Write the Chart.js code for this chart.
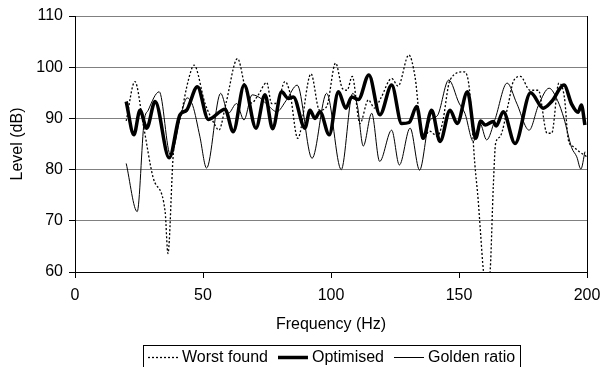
<!DOCTYPE html>
<html><head><meta charset="utf-8">
<script src="https://cdn.jsdelivr.net/npm/chart.js@4.4.1/dist/chart.umd.min.js"></script>
<style>html,body{margin:0;padding:0;background:#fff;}#wrap{width:600px;height:367px;}</style>
</head><body><div id="wrap"><canvas id="c" width="600" height="367"></canvas></div>
<script>
const seriesNames = ['Worst found', 'Optimised', 'Golden ratio'];
const xTickValues = [0, 50, 100, 150, 200];
const yTickValues = [60, 70, 80, 90, 100, 110];

const worstHz = [20, 23.4, 26.7, 30.6, 35.2, 36.3, 38.4, 41.7, 44.3, 46.5, 50.8, 54.7, 56.2, 59, 63.5, 66.4, 69, 71.6, 74.9, 76.8, 79, 82, 84, 87, 92.2, 95.5, 98.3, 101.8, 104.5, 106.3, 108.3, 111.3, 114.6, 117, 119.5, 123.7, 126.2, 130.4, 132.8, 135.8, 138.5, 141.5, 143.5, 146.5, 152, 154, 156.2, 157.5, 158.5, 159.5, 160.8, 162.2, 163.4, 164.3, 166, 169.3, 171.2, 174, 177.7, 181, 184.4, 186.2, 189, 191.2, 192.7, 194.6, 197, 200];
const worstDb = [89.5, 97.2, 88.7, 78.3, 71.8, 63.6, 83.0, 91.3, 97.5, 100.4, 92.9, 88.7, 87.7, 93.0, 101.7, 96.2, 93.0, 94.6, 97.0, 92.9, 93.0, 97.2, 94.9, 86.1, 98.7, 91.6, 92.3, 100.8, 95.8, 95.5, 98.2, 89.0, 93.6, 92.0, 94.0, 97.8, 96.3, 102.4, 98.2, 86.0, 87.5, 86.5, 89.0, 97.5, 99.1, 96.0, 81.0, 74.0, 67.0, 60.4, 56.0, 60.4, 76.7, 85.1, 86.4, 92.9, 97.2, 98.2, 95.5, 95.5, 87.1, 87.1, 96.9, 94.0, 85.8, 84.5, 83.5, 82.5];

const optHz = [20, 23, 25.4, 28, 31.3, 36.8, 41, 43.6, 47.8, 52.1, 58.6, 61.8, 66.1, 70.7, 74.2, 77.2, 80.7, 83.3, 85.3, 89.8, 91.8, 93.75, 95.7, 99.3, 102.9, 105.8, 108.1, 110.7, 114.8, 119.1, 123.7, 127.6, 130.5, 133.5, 136, 139.3, 142.6, 146.5, 149.3, 153.3, 156.5, 158.5, 160.2, 163.4, 164.5, 167.3, 171.9, 178, 182.9, 186.2, 191, 194, 196.5, 197.8, 199.2];
const optDb = [93.3, 86.8, 91.6, 88.1, 93.3, 82.3, 90.7, 91.6, 96.2, 89.8, 91.8, 87.4, 96.5, 88.1, 94.6, 88.0, 95.2, 93.9, 94.2, 88.1, 91.6, 90.0, 91.3, 86.8, 95.2, 92.0, 94.2, 93.7, 98.5, 90.7, 96.5, 89.0, 89.2, 92.3, 86.1, 91.6, 85.5, 91.6, 89.0, 95.2, 86.1, 89.5, 88.7, 89.4, 88.5, 91.3, 85.1, 95.0, 92.0, 93.3, 96.5, 92.8, 91.2, 92.6, 88.7];

const goldHz = [20, 24.3, 27, 28.6, 32.9, 37.3, 41.7, 43.8, 46, 48.8, 51.4, 56.9, 59.9, 63.1, 66, 69.2, 72.3, 75.5, 78.8, 82.5, 86.8, 92.6, 98.3, 104, 108.5, 110.3, 112.6, 115.9, 119, 123.7, 126.7, 130.9, 134.6, 138.5, 141.5, 146, 150, 152.3, 155.6, 158.2, 160.8, 164, 168.8, 172.5, 177.4, 181, 185.2, 188.5, 191, 194, 196, 197.6, 199.2];
const goldDb = [81.2, 71.8, 89.4, 91.6, 95.2, 82.8, 91.3, 94.0, 92.5, 86.4, 80.3, 94.9, 91.0, 92.9, 89.7, 94.6, 94.0, 92.5, 91.3, 93.5, 96.5, 82.2, 94.9, 80.0, 94.9, 92.5, 84.6, 91.0, 81.6, 87.7, 80.9, 88.1, 79.9, 89.5, 90.5, 97.5, 93.0, 91.0, 85.5, 89.0, 85.8, 89.7, 96.9, 93.0, 87.7, 92.5, 95.9, 93.5, 90.0, 84.3, 82.5, 80.1, 83.5];

const toPts = (xs, ys) => xs.map((x, i) => ({x: x, y: ys[i]}));
const FONT = '"Liberation Sans", Arial, sans-serif';

const borderPlugin = {
  id: 'rightBorder',
  afterDatasetsDraw(chart) {
    const {ctx, chartArea: a} = chart;
    ctx.save();
    ctx.strokeStyle = '#000'; ctx.lineWidth = 1;
    ctx.beginPath();
    ctx.moveTo(Math.round(a.right) + 0.5, a.top);
    ctx.lineTo(Math.round(a.right) + 0.5, a.bottom);
    ctx.stroke();
    ctx.restore();
  }
};

const legendPlugin = {
  id: 'boxLegend',
  afterDraw(chart) {
    const ctx = chart.ctx;
    ctx.save();
    ctx.strokeStyle = '#000'; ctx.lineWidth = 1;
    ctx.strokeRect(143.5, 345.5, 377, 30);
    ctx.font = '16px ' + FONT;
    ctx.fillStyle = '#000';
    ctx.textBaseline = 'middle';
    let x = 148;
    const y = 357.5;
    chart.data.datasets.forEach(ds => {
      ctx.save();
      ctx.strokeStyle = ds.borderColor;
      ctx.lineWidth = ds.borderWidth;
      ctx.setLineDash(ds.borderDash || []);
      ctx.beginPath();
      ctx.moveTo(x, y); ctx.lineTo(x + 30, y);
      ctx.stroke();
      ctx.restore();
      x += 34;
      ctx.fillText(ds.label, x, y);
      x += ctx.measureText(ds.label).width + 10;
    });
    ctx.restore();
  }
};

new Chart(document.getElementById('c'), {
  type: 'line',
  data: {
    datasets: [
      {label: seriesNames[0], data: toPts(worstHz, worstDb), borderColor: '#000', borderWidth: 1.3, borderDash: [2, 2], pointRadius: 0, cubicInterpolationMode: 'monotone', fill: false},
      {label: seriesNames[1], data: toPts(optHz, optDb), borderColor: '#000', borderWidth: 3.5, pointRadius: 0, cubicInterpolationMode: 'monotone', fill: false},
      {label: seriesNames[2], data: toPts(goldHz, goldDb), borderColor: '#000', borderWidth: 1, pointRadius: 0, cubicInterpolationMode: 'monotone', fill: false}
    ]
  },
  options: {
    responsive: false, animation: false, devicePixelRatio: 1,
    layout: {padding: {left: 0, right: 13, top: 16, bottom: 33}},
    plugins: {legend: {display: false}, tooltip: {enabled: false}},
    scales: {
      x: {
        type: 'linear', min: 0, max: 200,
        afterBuildTicks: s => { s.ticks = xTickValues.map(v => ({value: v})); },
        afterFit: s => { s.height = 62; s.paddingLeft = 0; s.paddingRight = 0; },
        ticks: {color: '#000', font: {family: FONT, size: 16}, padding: 8, maxRotation: 0},
        grid: {drawOnChartArea: false, tickLength: 6, tickColor: '#000'},
        border: {color: '#000', width: 1},
        title: {display: true, text: 'Frequency (Hz)', color: '#000', font: {family: FONT, size: 16}, padding: {top: 0, bottom: 0}}
      },
      y: {
        min: 60, max: 110,
        afterBuildTicks: s => { s.ticks = yTickValues.map(v => ({value: v})); },
        afterFit: s => { s.width = 75; s.paddingTop = 0; s.paddingBottom = 0; },
        ticks: {color: '#000', font: {family: FONT, size: 16}, padding: 6},
        grid: {color: '#808080', tickLength: 6, tickColor: '#000'},
        border: {color: '#000', width: 1},
        title: {display: true, text: 'Level (dB)', color: '#000', font: {family: FONT, size: 16}, padding: {top: 8, bottom: 0}}
      }
    }
  },
  plugins: [borderPlugin, legendPlugin]
});
</script></body></html>
